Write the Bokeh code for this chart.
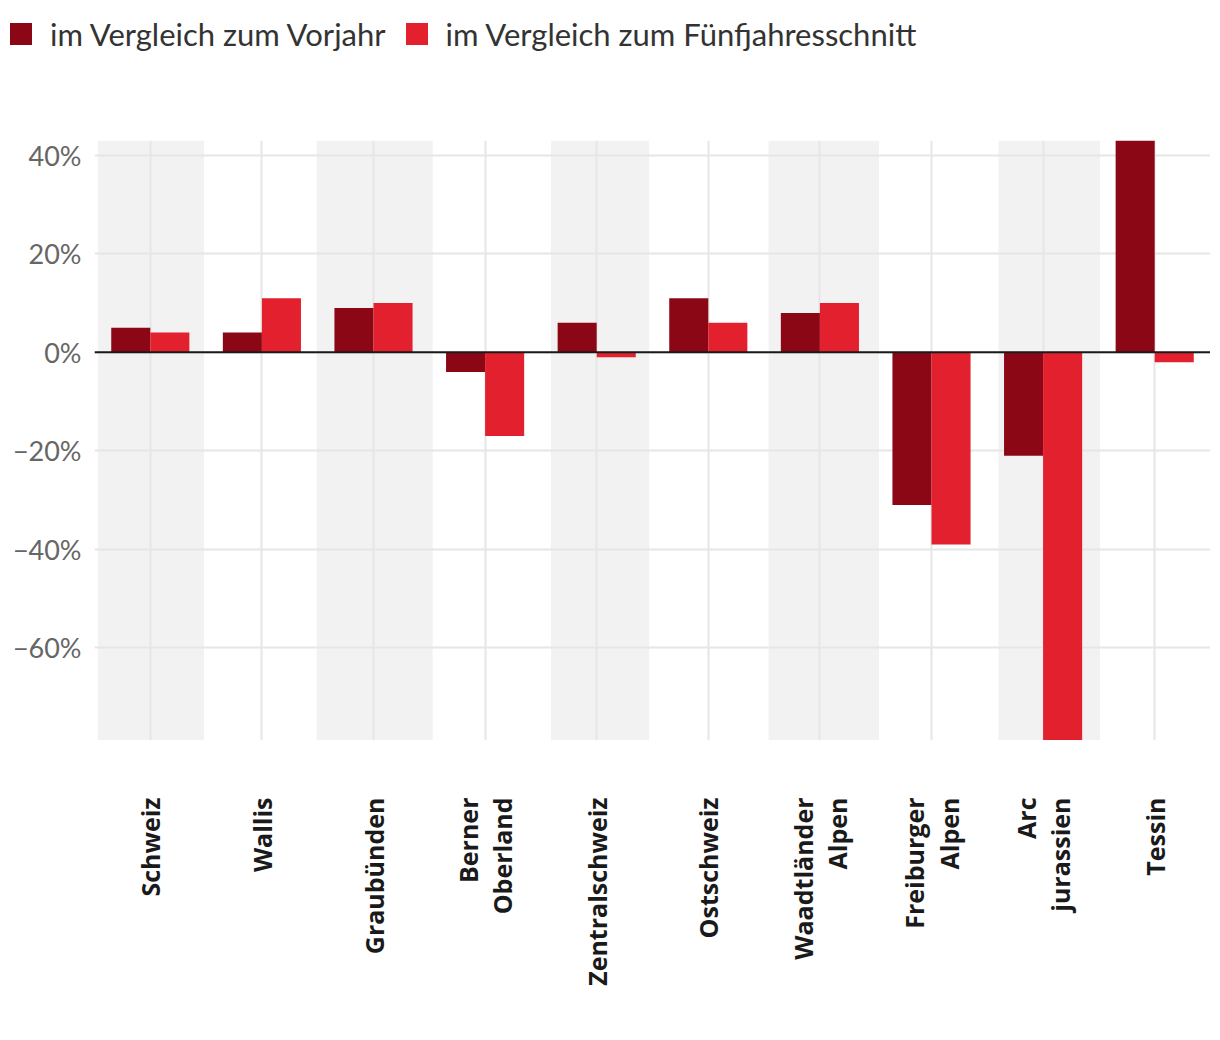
import math
from bokeh.plotting import figure
from bokeh.layouts import column
from bokeh.models import ColumnDataSource, FactorRange, Range1d, FixedTicker, Span, Div
from bokeh.core.properties import value
from bokeh.transform import dodge
from bokeh.embed import file_html
from bokeh.resources import INLINE

# ---------------- data ----------------
regions = ["Schweiz", "Wallis", "Graubünden", "Berner Oberland", "Zentralschweiz",
           "Ostschweiz", "Waadtländer Alpen", "Freiburger Alpen", "Arc jurassien", "Tessin"]
region_labels = ["Schweiz", "Wallis", "Graubünden", "Berner\nOberland", "Zentralschweiz",
                 "Ostschweiz", "Waadtländer\nAlpen", "Freiburger\nAlpen", "Arc\njurassien", "Tessin"]
vs_prev_year = [5, 4, 9, -4, 6, 11, 8, -31, -21, 55]
vs_five_year = [4, 11, 10, -17, -1, 6, 10, -39, -90, -2]
series_names = ["im Vergleich zum Vorjahr", "im Vergleich zum Fünfjahresschnitt"]
y_ticks = [-60, -40, -20, 0, 20, 40]
y_tick_labels = ["−60%", "−40%", "−20%", "0%", "20%", "40%"]

# shaded background bands (every other region), extents relative to category centre
band_regions = [0, 2, 4, 6, 8]
band_lo = [0.47, 0.51, 0.41, 0.46, 0.40]
band_hi = [0.48, 0.53, 0.47, 0.53, 0.51]

DARK = "#8B0715"
RED = "#E3202D"
series_colors = [DARK, RED]
Y_MIN, Y_MAX = -78.8, 43.0
W = 1210

# ---------------- legend strip (HTML) ----------------
items_html = ""
for i, (name, col) in enumerate(zip(series_names, series_colors)):
    items_html += (
        f'<span style="display:inline-block;width:22px;height:22px;background:{col};'
        f'margin-left:{10 if i == 0 else 20}px;"></span>'
        f'<span style="margin-left:18px;">{name}</span>'
    )
legend_div = Div(
    text=(f'<div style="display:flex;align-items:center;height:68px;white-space:nowrap;'
          f'font-family:Lato;font-size:31px;line-height:1;color:#333333;">{items_html}</div>'),
    width=W, height=100, margin=0)

# ---------------- main chart ----------------
src = ColumnDataSource(dict(region=regions, label=region_labels, a=vs_prev_year, b=vs_five_year))

p = figure(x_range=FactorRange(*regions, range_padding=0),
           y_range=Range1d(Y_MIN, Y_MAX),
           width=W, height=640, output_backend="svg", toolbar_location=None,
           min_border_left=94, min_border_right=0, min_border_top=40, min_border_bottom=0)
p.outline_line_color = None

p.quad(left=[i + 0.5 - lo for i, lo in zip(band_regions, band_lo)],
       right=[i + 0.5 + hi for i, hi in zip(band_regions, band_hi)],
       top=[Y_MAX] * len(band_regions), bottom=[Y_MIN] * len(band_regions),
       fill_color="#F2F2F2", line_color=None, level="image")

p.vbar(x=dodge("region", -0.175, range=p.x_range), top="a", width=0.35, source=src,
       fill_color=DARK, line_color=None)
p.vbar(x=dodge("region", 0.175, range=p.x_range), top="b", width=0.35, source=src,
       fill_color=RED, line_color=None)

p.add_layout(Span(location=0, dimension="width", line_color="#1a1a1a", line_width=2))

p.xgrid.grid_line_color = "#E6E6E6"
p.xgrid.grid_line_width = 2
p.ygrid.grid_line_color = "#E6E6E6"
p.ygrid.grid_line_width = 2

p.yaxis.ticker = FixedTicker(ticks=y_ticks)
p.yaxis.major_label_overrides = {t: l for t, l in zip(y_ticks, y_tick_labels)}
p.yaxis.axis_line_color = None
p.yaxis.major_tick_line_color = None
p.yaxis.minor_tick_line_color = None
p.yaxis.major_label_text_font = "Lato"
p.yaxis.major_label_text_font_size = "27px"
p.yaxis.major_label_text_color = "#666666"
p.yaxis.major_label_standoff = 7
p.xaxis.visible = False

# ---------------- category labels strip ----------------
pb = figure(x_range=p.x_range, y_range=Range1d(0, 260), width=W, height=260,
            y_axis_location=None, x_axis_location=None,
            output_backend="svg", toolbar_location=None,
            min_border_left=94, min_border_right=0, min_border_top=0, min_border_bottom=0)
pb.grid.visible = False
pb.outline_line_color = None
pb.text(x="region", y=203, text="label", source=src, angle=math.pi / 2,
        text_align="right", text_baseline="middle", text_line_height=1.02,
        text_font=value("Open Sans"), text_font_style="bold", text_font_size="25px",
        text_color="#1a1a1a")

layout = column(legend_div, p, pb, spacing=0)
open("out.html", "w").write(file_html(layout, INLINE))
